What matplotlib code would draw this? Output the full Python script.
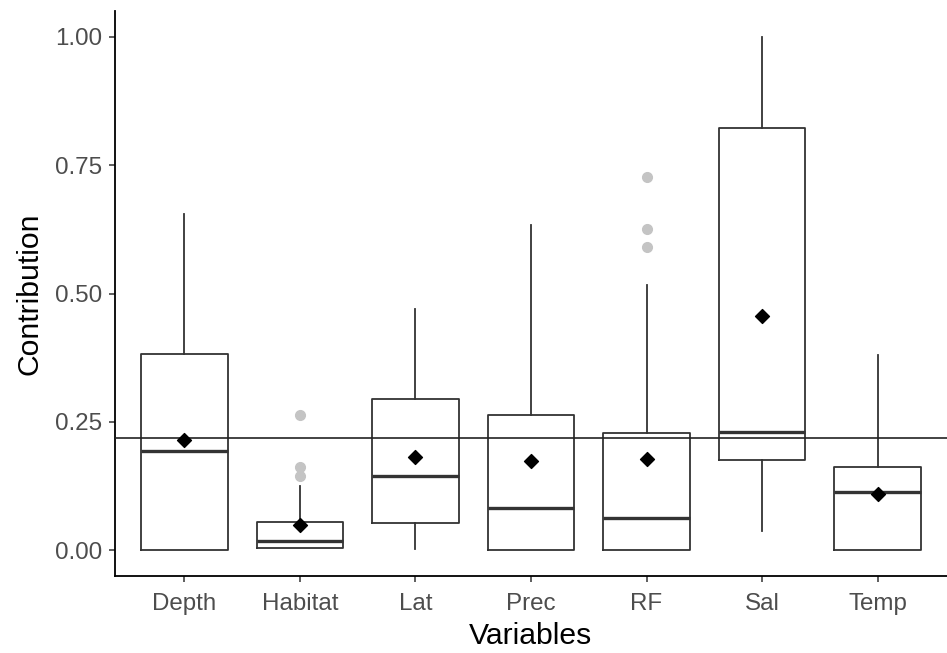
import matplotlib
matplotlib.use("Agg")
import matplotlib.pyplot as plt

plt.rcParams['font.family'] = ['Liberation Sans', 'DejaVu Sans']

# values
variables = ['Depth', 'Habitat', 'Lat', 'Prec', 'RF', 'Sal', 'Temp']
whisk_lo = [0.000, 0.004, 0.002, 0.000, 0.000, 0.037, 0.000]
q1 = [0.000, 0.004, 0.053, 0.000, 0.000, 0.175, 0.000]
median = [0.193, 0.018, 0.145, 0.082, 0.062, 0.230, 0.113]
q3 = [0.383, 0.056, 0.294, 0.263, 0.228, 0.823, 0.163]
whisk_hi = [0.656, 0.125, 0.471, 0.634, 0.517, 1.000, 0.381]
means = [0.214, 0.049, 0.181, 0.173, 0.177, 0.457, 0.109]
outliers = [[], [0.263, 0.163, 0.144], [], [], [0.728, 0.626, 0.590], [], []]
overall_mean = 0.219

stats = []
for i, name in enumerate(variables):
    stats.append(dict(label=name, whislo=whisk_lo[i], q1=q1[i], med=median[i],
                      q3=q3[i], whishi=whisk_hi[i], fliers=outliers[i]))

fig = plt.figure(figsize=(9.47, 6.53), dpi=100)
ax = fig.add_axes([0.1214, 0.118, 0.8786, 0.8647])

pos = list(range(len(variables)))
ax.bxp(stats, positions=pos, widths=0.75, showcaps=False, showfliers=True,
       boxprops=dict(color='#333333', linewidth=1.3),
       whiskerprops=dict(color='#333333', linewidth=1.3),
       medianprops=dict(color='#333333', linewidth=2.4),
       flierprops=dict(marker='o', markerfacecolor='#c4c4c4', markeredgecolor='#c4c4c4',
                       markersize=7))

ax.axhline(overall_mean, color='#222222', linewidth=1.2, zorder=3)
ax.scatter(pos, means, marker='D', s=50, color='black', zorder=4)

ax.set_xlim(-0.6, len(variables) - 0.4)
ax.set_ylim(-0.05, 1.05)
ax.set_yticks([0, 0.25, 0.5, 0.75, 1.0])
ax.set_yticklabels(['0.00', '0.25', '0.50', '0.75', '1.00'])
ax.set_xticks(pos)
ax.set_xticklabels(variables)
ax.tick_params(axis='both', colors='#333333', labelcolor='#4d4d4d', labelsize=17.4,
               length=4, width=1.1)
ax.tick_params(axis='x', pad=8.5)
ax.tick_params(axis='y', pad=5.2)

ax.spines['top'].set_visible(False)
ax.spines['right'].set_visible(False)
for s in ['left', 'bottom']:
    ax.spines[s].set_linewidth(1.3)
    ax.spines[s].set_color('black')

ax.set_xlabel('Variables', fontsize=21.7, labelpad=5)
ax.set_ylabel('Contribution', fontsize=21.7, labelpad=8)

fig.savefig('out.png', dpi=100)
